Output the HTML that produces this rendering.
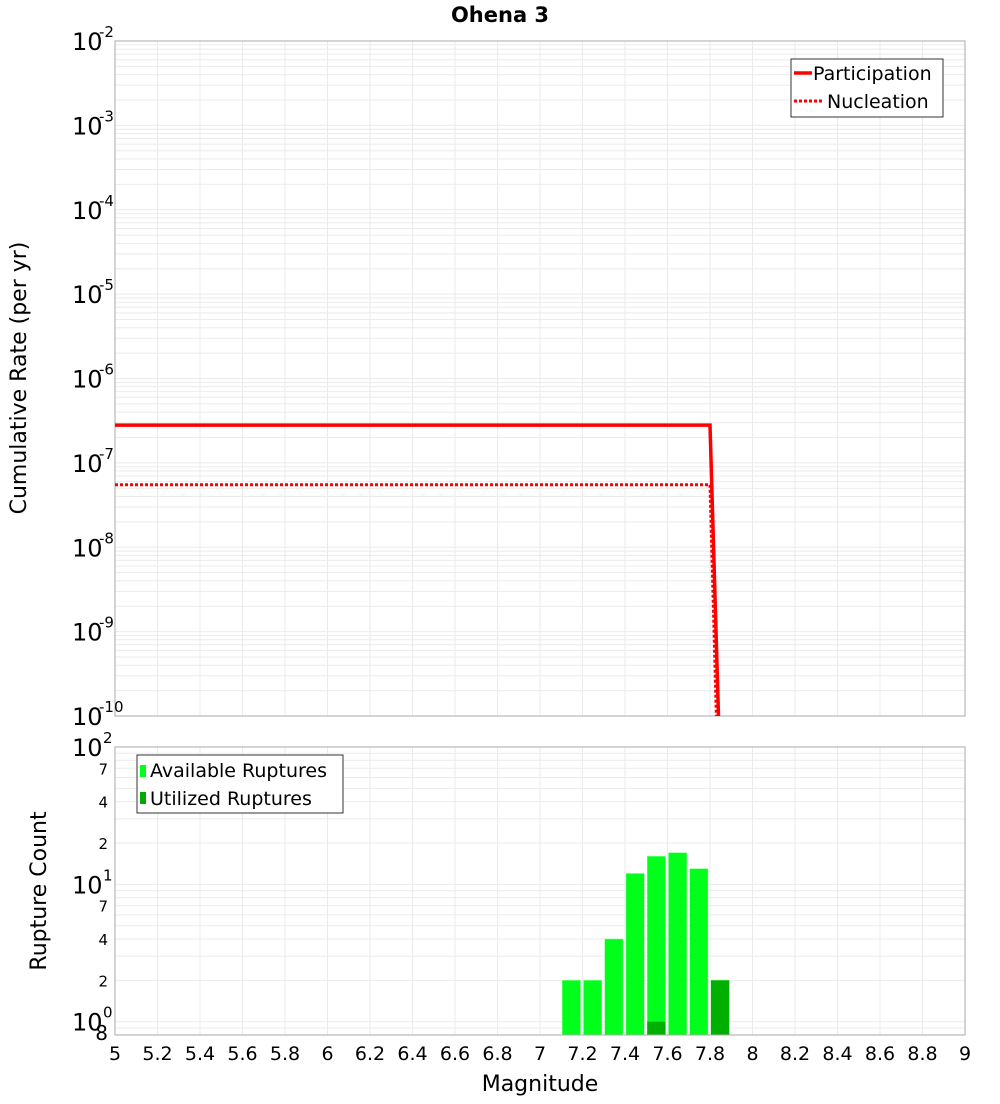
<!DOCTYPE html>
<html><head><meta charset="utf-8"><style>
body{margin:0;background:#fff;font-family:"DejaVu Sans","Liberation Sans",sans-serif}
svg text{font-family:"DejaVu Sans","Liberation Sans",sans-serif}
</style></head><body>
<svg id="c" width="1000" height="1100" xmlns="http://www.w3.org/2000/svg">
<text x="500" y="22" text-anchor="middle" font-size="21" font-weight="bold">Ohena 3</text>
<g id="topg"></g>
<g id="botg"></g>
<text transform="translate(26,378) rotate(-90)" text-anchor="middle" font-size="22">Cumulative Rate (per yr)</text>
<text transform="translate(46,891) rotate(-90)" text-anchor="middle" font-size="22">Rupture Count</text>
<text x="540" y="1091" text-anchor="middle" font-size="22">Magnitude</text>
<g>
<rect x="791" y="59" width="152" height="58" fill="#fff" stroke="#333" stroke-width="1"/>
<line x1="794" y1="73" x2="812" y2="73" stroke="#f00" stroke-width="3.5"/>
<text x="813" y="80" font-size="19">Participation</text>
<line x1="794" y1="101" x2="822" y2="101" stroke="#f00" stroke-width="3" stroke-dasharray="3,2"/>
<text x="827" y="108" font-size="19">Nucleation</text>
</g>
<g>
<rect x="137" y="755" width="206" height="58" fill="#fff" stroke="#333" stroke-width="1"/>
<rect x="140" y="765" width="6" height="12" fill="#00ff1a"/>
<text x="150" y="777" font-size="19">Available Ruptures</text>
<rect x="140" y="792" width="6" height="12" fill="#00aa00"/>
<text x="150" y="805" font-size="19">Utilized Ruptures</text>
</g>
</svg>
<script>
const magCats=[7.1,7.2,7.3,7.4,7.5,7.6,7.7,7.8];
const availCounts=[2,2,4,12,16,17,13,2];
const utilCounts=[0,0,0,0,1,0,0,2];
const partM=[5,7.8,7.84];
const partRate=[2.8e-7,2.8e-7,1e-10];
const nuclM=[5,7.8,7.83];
const nuclRate=[5.5e-8,5.5e-8,1e-10];
const xTicks=[5,5.2,5.4,5.6,5.8,6,6.2,6.4,6.6,6.8,7,7.2,7.4,7.6,7.8,8,8.2,8.4,8.6,8.8,9];
const rateExps=[-2,-3,-4,-5,-6,-7,-8,-9,-10];

const NS='http://www.w3.org/2000/svg';
const L=115,R=965;
const X=m=>L+(m-5)/4*(R-L);
const T1=41,B1=716;
const Y1=v=>B1-(Math.log10(v)+10)/8*(B1-T1);
const T2=747,B2=1035;
const lmin=Math.log10(0.8),lmax=2;
const Y2=v=>B2-(Math.log10(v)-lmin)/(lmax-lmin)*(B2-T2);
function el(p,t,a){const e=document.createElementNS(NS,t);for(const k in a)e.setAttribute(k,a[k]);p.appendChild(e);return e;}
const topG=document.getElementById('topg'),botG=document.getElementById('botg');
for(let e=-10;e<-2;e++)for(let k=1;k<10;k++){const y=Y1(k*Math.pow(10,e));
const g=el(topG,'line',{x1:L,x2:R,y1:y,y2:y,stroke:'#ebebeb','stroke-width':1});

}
xTicks.forEach(m=>{const g=el(topG,'line',{x1:X(m),x2:X(m),y1:T1,y2:B1,stroke:'#ebebeb'});


const g2=el(botG,'line',{x1:X(m),x2:X(m),y1:T2,y2:B2,stroke:'#ebebeb'});

});
const f1=el(topG,'rect',{x:L,y:T1,width:R-L,height:B1-T1,fill:'none',stroke:'#aaa'});


rateExps.forEach(e=>{const y=Y1(Math.pow(10,e));
const t=el(topG,'text',{x:72,y:y+9,'font-size':24});t.textContent='10';


const s=el(topG,'text',{x:99,y:y-4,'font-size':15});s.textContent=String(e);

});
const pl=el(topG,'polyline',{points:partM.map((m,i)=>X(m)+','+Y1(partRate[i])).join(' '),fill:'none',stroke:'#f00','stroke-width':3.5});


const nl=el(topG,'polyline',{points:nuclM.map((m,i)=>X(m)+','+Y1(nuclRate[i])).join(' '),fill:'none',stroke:'#f00','stroke-width':3,'stroke-dasharray':'3,2'});


[0.8,0.9,1,2,3,4,5,6,7,8,9,10,20,30,40,50,60,70,80,90].forEach(v=>{const y=Y2(v);
const g=el(botG,'line',{x1:L,x2:R,y1:y,y2:y,stroke:'#ebebeb'});

});
magCats.forEach((m,i)=>{
const b=el(botG,'rect',{x:X(m)+1,y:Y2(availCounts[i]),width:X(m+0.1)-X(m)-3,height:B2-Y2(availCounts[i]),fill:'#00ff1a',stroke:'#7fff8a','stroke-width':0.5});


if(utilCounts[i]>0){const u=el(botG,'rect',{x:X(m)+1,y:Y2(utilCounts[i]),width:X(m+0.1)-X(m)-3,height:B2-Y2(utilCounts[i]),fill:'#00b000'});

}
});
const f2=el(botG,'rect',{x:L,y:T2,width:R-L,height:B2-T2,fill:'none',stroke:'#aaa'});


[[100,'2'],[10,'1'],[1,'0']].forEach(([v,e])=>{const y=Y2(v);
const t=el(botG,'text',{x:72,y:y+9,'font-size':24});t.textContent='10';


const s=el(botG,'text',{x:103,y:y-4,'font-size':15});s.textContent=e;

});
[[70,'7'],[40,'4'],[20,'2'],[7,'7'],[4,'4'],[2,'2'],[0.8,'8']].forEach(([v,l])=>{const y=Y2(v);
const t=el(botG,'text',{x:108,y:y+(v<1?5:6),'font-size':v<1?20:15,'text-anchor':'end'});t.textContent=l;

});
xTicks.forEach(m=>{const t=el(botG,'text',{x:X(m),y:1060,'font-size':19,'text-anchor':'middle'});t.textContent=String(m);

});
</script>
</body></html>
